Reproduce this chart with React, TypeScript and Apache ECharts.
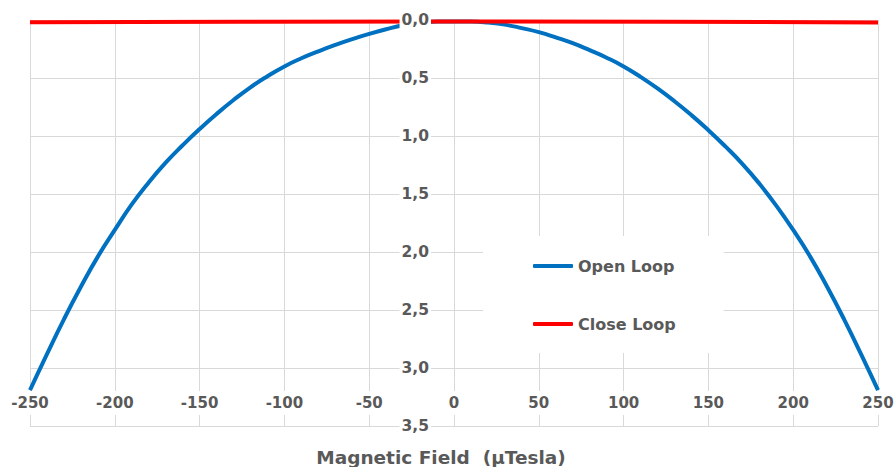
import React, { useEffect, useRef } from "react";
import * as echarts from "echarts";

const FONT = "DejaVu Sans";
const TEXT_COLOR = "#595959";
const GRID_COLOR = "#d9d9d9";

const fieldValues = [
  -250, -240, -230, -220, -210, -200, -190, -180, -170, -160, -150, -140, -130,
  -120, -110, -100, -90, -80, -70, -60, -50, -40, -30, -20, -10, 0, 10, 20, 30,
  40, 50, 60, 70, 80, 90, 100, 110, 120, 130, 140, 150, 160, 170, 180, 190, 200,
  210, 220, 230, 240, 250,
];

const openLoop = [
  3.19, 2.88, 2.58, 2.3, 2.04, 1.81, 1.59, 1.4, 1.23, 1.08, 0.94, 0.81, 0.69,
  0.58, 0.485, 0.4, 0.33, 0.27, 0.215, 0.165, 0.12, 0.08, 0.045, 0.022, 0.014,
  0.012, 0.013, 0.022, 0.04, 0.07, 0.105, 0.15, 0.2, 0.26, 0.325, 0.4, 0.49,
  0.59, 0.7, 0.82, 0.95, 1.09, 1.24, 1.41, 1.6, 1.81, 2.04, 2.3, 2.58, 2.88,
  3.19,
];

const closeLoopField = [-250, -125, 0, 125, 250];
const closeLoop = [0.02, 0.015, 0.012, 0.015, 0.022];

const seriesNames = ["Open Loop", "Close Loop"];
const xAxisTitle = "Magnetic Field  (µTesla)";

export default function App() {
  const ref = useRef<HTMLDivElement>(null);

  useEffect(() => {
    if (!ref.current) return;
    const chart = echarts.init(ref.current, null, { renderer: "svg" });

    const openData = fieldValues.map((x, i) => [x, openLoop[i]]);
    const closeData = closeLoopField.map((x, i) => [x, closeLoop[i]]);

    const labelStyle = {
      fontFamily: FONT,
      fontSize: 15,
      fontWeight: "bold" as const,
      color: TEXT_COLOR,
    };

    chart.setOption({
      animation: false,
      textStyle: { fontFamily: FONT },
      grid: {
        left: 30,
        right: 17,
        top: 20,
        bottom: 41,
        containLabel: false,
        outerBoundsMode: "none",
      },
      xAxis: [
        {
          type: "value",
          min: -250,
          max: 250,
          interval: 50,
          axisLine: { show: false, onZero: false },
          axisTick: { show: false },
          axisLabel: { show: false },
          splitLine: { show: true, lineStyle: { color: GRID_COLOR, width: 1 } },
        },
        {
          type: "value",
          min: -250,
          max: 250,
          interval: 50,
          position: "bottom",
          z: 5,
          axisLine: { show: false, onZero: false },
          axisTick: { show: false },
          splitLine: { show: false },
          axisLabel: {
            ...labelStyle,
            margin: -35,
            lineHeight: 18,
            padding: [3, 3],
            backgroundColor: "#ffffff",
          },
          name: xAxisTitle,
          nameLocation: "middle",
          nameGap: 22,
          nameTextStyle: {
            fontFamily: FONT,
            fontSize: 18.5,
            fontWeight: "bold",
            color: TEXT_COLOR,
            padding: [0, 26, 0, 0],
          },
        },
      ],
      yAxis: [
        {
          type: "value",
          min: 0,
          max: 3.5,
          interval: 0.5,
          inverse: true,
          axisLine: { show: false, onZero: false },
          axisTick: { show: false },
          axisLabel: { show: false },
          splitLine: { show: true, lineStyle: { color: GRID_COLOR, width: 1 } },
        },
        {
          type: "value",
          min: 0,
          max: 3.5,
          interval: 0.5,
          inverse: true,
          position: "left",
          offset: -424,
          z: 5,
          axisLine: { show: false, onZero: false },
          axisTick: { show: false },
          splitLine: { show: false },
          axisLabel: {
            ...labelStyle,
            fontSize: 15.5,
            margin: 23,
            padding: [0, 2],
            backgroundColor: "#ffffff",
            formatter: (v: number) => v.toFixed(1).replace(".", ","),
          },
        },
      ],
      legend: {
        orient: "vertical",
        left: 483,
        top: 236,
        backgroundColor: "#ffffff",
        padding: [20, 48, 19, 50],
        itemGap: 38,
        itemWidth: 40,
        itemHeight: 4,
        icon: "roundRect",
        data: seriesNames,
        textStyle: {
          fontFamily: FONT,
          fontSize: 16,
          fontWeight: "bold",
          color: TEXT_COLOR,
          lineHeight: 20,
        },
      },
      series: [
        {
          type: "line",
          name: seriesNames[0],
          xAxisIndex: 0,
          yAxisIndex: 0,
          data: openData,
          symbol: "none",
          smooth: 0.5,
          color: "#0070C0",
          lineStyle: { width: 4, color: "#0070C0" },
          itemStyle: { color: "#0070C0" },
        },
        {
          type: "line",
          name: seriesNames[1],
          xAxisIndex: 0,
          yAxisIndex: 0,
          data: closeData,
          symbol: "none",
          color: "#FF0000",
          lineStyle: { width: 4, color: "#FF0000" },
          itemStyle: { color: "#FF0000" },
        },
      ],
    });

    return () => chart.dispose();
  }, []);

  return (
    <div
      ref={ref}
      style={{ position: "absolute", left: 0, top: 0, width: 895, height: 467 }}
    />
  );
}
